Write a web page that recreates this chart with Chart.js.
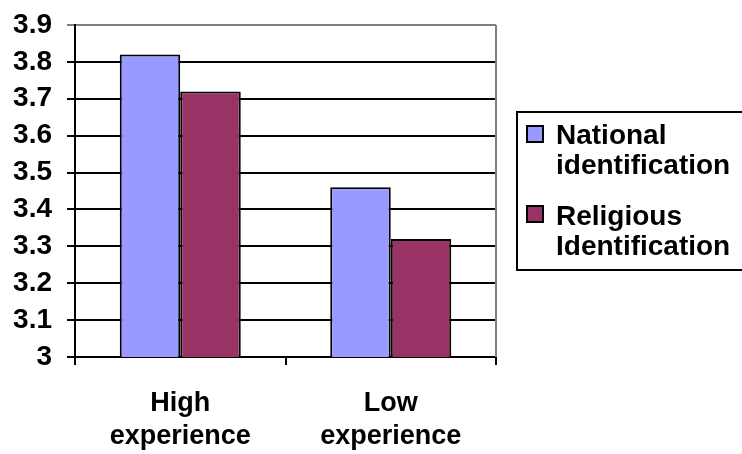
<!DOCTYPE html>
<html>
<head>
<meta charset="utf-8">
<script src="https://cdn.jsdelivr.net/npm/chart.js@4/dist/chart.umd.min.js"></script>
<style>
  html, body { margin: 0; padding: 0; background: #ffffff; }
  canvas { display: block; }
</style>
</head>
<body>
<canvas id="chart" width="742" height="454"></canvas>
<script>
// Mean identification scores by level of experience
const categories = [["High", "experience"], ["Low", "experience"]];
const nationalValues = [3.82, 3.46];
const religiousValues = [3.72, 3.32];
const seriesLabels = [["National", "identification"], ["Religious", "Identification"]];
const seriesColors = ["#9999FF", "#993366"];
const yMin = 3, yMax = 3.9, yStep = 0.1;

const FONT = '"Liberation Sans", Arial, sans-serif';

// Frame (gray right edge) and the boxed two-line legend at the right
const framePlugin = {
  id: 'frameAndLegend',
  afterDatasetsDraw(chart) {
    const { ctx, chartArea } = chart;
    ctx.save();
    ctx.strokeStyle = '#808080';
    ctx.lineWidth = 2;
    ctx.beginPath();
    ctx.moveTo(chartArea.right, chartArea.top);
    ctx.lineTo(chartArea.right, chartArea.bottom);
    ctx.stroke();
    ctx.restore();
  },
  afterDraw(chart) {
    const { ctx } = chart;
    ctx.save();
    ctx.strokeStyle = '#000000';
    ctx.lineWidth = 2;
    ctx.strokeRect(517, 112, 230, 158);
    const markerTops = [126, 206];
    const baselines = [[144, 174], [225, 255]];
    ctx.font = 'bold 28px ' + FONT;
    ctx.textBaseline = 'alphabetic';
    ctx.textAlign = 'left';
    chart.data.datasets.forEach((ds, i) => {
      ctx.fillStyle = ds.backgroundColor;
      ctx.fillRect(527, markerTops[i], 16, 16);
      ctx.strokeStyle = '#000000';
      ctx.lineWidth = 2;
      ctx.strokeRect(527, markerTops[i], 16, 16);
      ctx.fillStyle = '#000000';
      seriesLabels[i].forEach((line, j) => ctx.fillText(line, 556, baselines[i][j]));
    });
    ctx.restore();
  }
};

new Chart(document.getElementById('chart'), {
  type: 'bar',
  data: {
    labels: categories,
    datasets: [
      {
        label: seriesLabels[0].join(' '),
        data: nationalValues,
        backgroundColor: seriesColors[0],
        borderColor: '#000000',
        borderWidth: 2,
        borderSkipped: false
      },
      {
        label: seriesLabels[1].join(' '),
        data: religiousValues,
        backgroundColor: seriesColors[1],
        borderColor: '#000000',
        borderWidth: 2,
        borderSkipped: false
      }
    ]
  },
  options: {
    responsive: false,
    animation: false,
    events: [],
    layout: { padding: { top: 25, right: 246, bottom: 0, left: 0 } },
    datasets: { bar: { categoryPercentage: 0.575, barPercentage: 1.0 } },
    plugins: {
      legend: { display: false },
      tooltip: { enabled: false },
      title: { display: false }
    },
    scales: {
      x: {
        grid: {
          offset: true,
          drawOnChartArea: false,
          color: '#000000',
          lineWidth: 2,
          tickLength: 8
        },
        border: { color: '#000000', width: 2 },
        ticks: {
          color: '#000000',
          font: { family: FONT, size: 27, weight: 'bold', lineHeight: 1.22 },
          padding: 22,
          maxRotation: 0,
          autoSkip: false
        },
        afterFit(scale) { scale.height = 97; }
      },
      y: {
        min: yMin,
        max: yMax,
        grid: {
          color: (c) => (c.tick && Math.abs(c.tick.value - yMax) < 1e-6) ? '#808080' : '#000000',
          lineWidth: 2,
          tickLength: 8
        },
        border: { color: '#000000', width: 2 },
        ticks: {
          stepSize: yStep,
          autoSkip: false,
          color: '#000000',
          font: { family: FONT, size: 28, weight: 'bold' },
          padding: 15,
          callback: (v) => String(Number(Number(v).toFixed(1)))
        },
        afterFit(scale) {
          scale.width = 75;
          scale.paddingTop = 0;
          scale.paddingBottom = 0;
        }
      }
    }
  },
  plugins: [framePlugin]
});
</script>
</body>
</html>
